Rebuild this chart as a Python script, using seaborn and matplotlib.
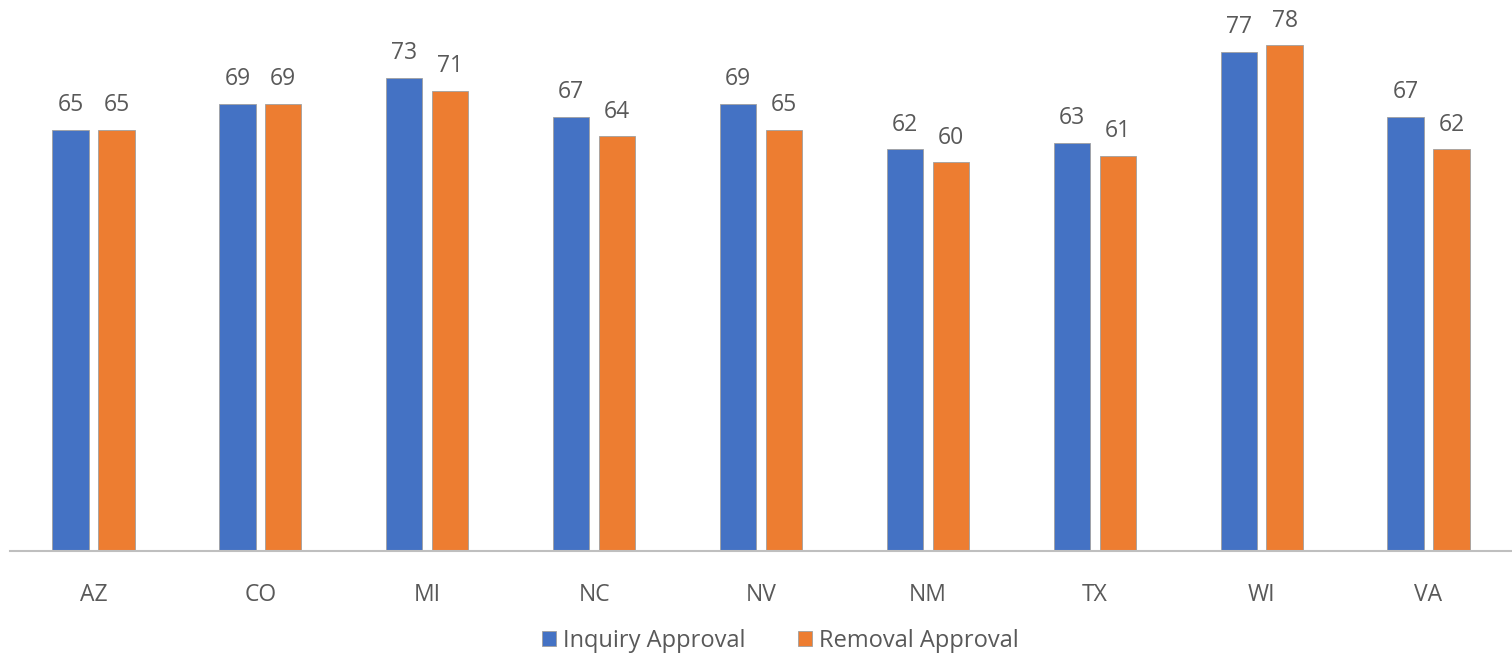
import matplotlib

matplotlib.use("Agg")

import matplotlib.pyplot as plt
import pandas as pd
import seaborn as sns

states = ["AZ", "CO", "MI", "NC", "NV", "NM", "TX", "WI", "VA"]
inquiry_approval = [65, 69, 73, 67, 69, 62, 63, 77, 67]
removal_approval = [65, 69, 71, 64, 65, 60, 61, 78, 62]
series_names = ["Inquiry Approval", "Removal Approval"]

df = pd.DataFrame({
    "State": states * 2,
    "Series": [series_names[0]] * len(states) + [series_names[1]] * len(states),
    "Value": inquiry_approval + removal_approval,
})

sns.set_theme(style="white")
plt.rcParams["font.family"] = ["Open Sans", "DejaVu Sans"]
text_color = "#595959"

fig = plt.figure(figsize=(15.12, 6.6), dpi=100)
ax = fig.add_axes([10 / 1512, 1 - 551 / 660, 1 - 10 / 1512, 551 / 660])

sns.barplot(
    data=df, x="State", y="Value", hue="Series", order=states,
    hue_order=series_names, palette=["#4472C4", "#ED7D31"], saturation=1,
    width=0.55, gap=0.21, edgecolor="#a0a0a0", linewidth=0.6, ax=ax,
)

for container in ax.containers:
    ax.bar_label(container, fmt="%d", fontsize=16.5, color=text_color, padding=9)

ax.set_ylim(0, 85)
ax.set_xlim(-0.5, len(states) - 0.5)
ax.set_xlabel("")
ax.set_ylabel("")
ax.set_yticks([])
ax.tick_params(axis="x", length=0, pad=23, labelsize=16.5, labelcolor=text_color)
for side in ["top", "left", "right"]:
    ax.spines[side].set_visible(False)
ax.spines["bottom"].set_color("#BFBFBF")
ax.spines["bottom"].set_linewidth(1.5)

ax.legend(
    loc="center", bbox_to_anchor=(0.513, -0.163), ncol=2, frameon=False,
    fontsize=17, labelcolor=text_color, handlelength=0.6, handleheight=0.6,
    handletextpad=0.3, columnspacing=2.2,
)

fig.savefig("out.png", dpi=100)
